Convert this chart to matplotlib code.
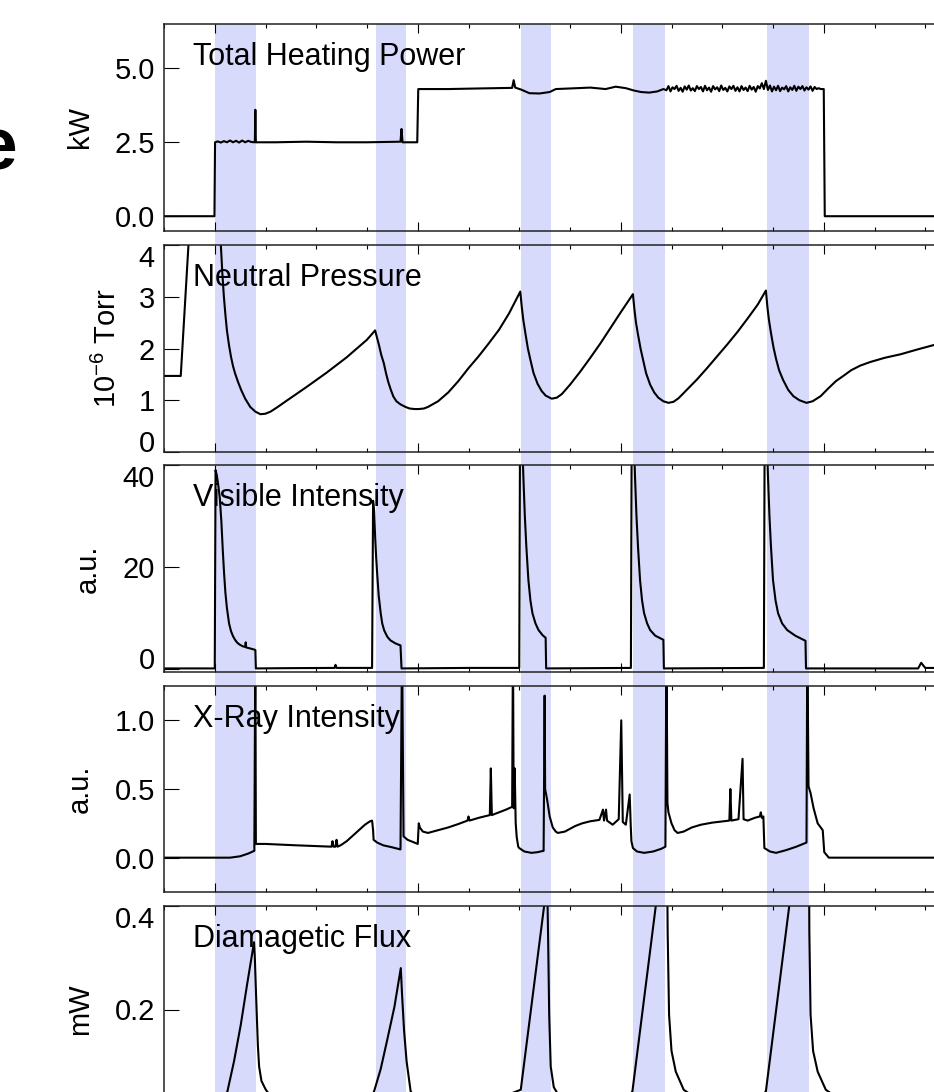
import matplotlib
matplotlib.use('Agg')
import matplotlib.pyplot as plt
import matplotlib.transforms as mtransforms
from matplotlib.patches import Rectangle
from matplotlib.ticker import MultipleLocator
import numpy as np

plt.rcParams['font.family'] = ['Liberation Sans', 'DejaVu Sans']
plt.rcParams['mathtext.fontset'] = 'custom'
plt.rcParams['mathtext.rm'] = 'Liberation Sans'
plt.rcParams['mathtext.it'] = 'Liberation Sans:italic'
plt.rcParams['mathtext.bf'] = 'Liberation Sans:bold'

# ---------------- data ----------------
x_limits = (-5, 80)
shade_spans = [(0.0, 4.05), (15.9, 18.85), (30.15, 33.1), (41.2, 44.35), (54.4, 58.5)]

titles = ['Total Heating Power', 'Neutral Pressure', 'Visible Intensity',
          'X-Ray Intensity', 'Diamagetic Flux']
ylabels = ['kW', r'10$^{\mathregular{-6}}$ Torr', 'a.u.', 'a.u.', 'mW']
ylims = [(-0.5, 6.5), (0, 4), (-0.5, 40), (-0.25, 1.25), (0, 0.4)]
yticks = [[0.0, 2.5, 5.0], [0, 1, 2, 3, 4], [0, 20, 40], [0.0, 0.5, 1.0], [0.2, 0.4]]
yticklabels = [['0.0', '2.5', '5.0'], ['0', '1', '2', '3', '4'], ['0', '20', '40'],
               ['0.0', '0.5', '1.0'], ['0.2', '0.4']]

# Total heating power (kW)
power_t = [-5, -0.03, 0.03, 0.3, 0.6, 0.9, 1.2, 1.5, 1.8, 2.1, 2.4, 2.7, 3.0, 3.3, 3.6, 3.95,
           4.0, 4.05, 6, 9, 12, 15, 18.3, 18.4, 18.5, 19.95, 20.05, 23, 26, 29.3, 29.45, 29.6,
           30.2, 31.0, 32.0, 33.0, 33.6, 35, 37, 38.5, 39.5, 40.5, 41.3, 42.0, 42.8, 43.6, 44.2]
power_v = [0, 0, 2.5, 2.53, 2.49, 2.54, 2.5, 2.56, 2.5, 2.55, 2.49, 2.56, 2.5, 2.55, 2.51, 2.5,
           3.6, 2.5, 2.5, 2.52, 2.5, 2.5, 2.52, 2.95, 2.5, 2.5, 4.3, 4.3, 4.32, 4.34, 4.6, 4.35,
           4.28, 4.16, 4.15, 4.2, 4.3, 4.32, 4.35, 4.3, 4.38, 4.33, 4.25, 4.2, 4.18, 4.22, 4.3]
# noisy plateau 44.5 .. 59.8 s (0.2 s sampling)
noise_start, noise_step = 44.5, 0.2
noise_v = [4.26, 4.4, 4.22, 4.36, 4.3, 4.41, 4.24, 4.34, 4.21, 4.39, 4.28, 4.42, 4.25, 4.33,
           4.23, 4.4, 4.3, 4.37, 4.22, 4.41, 4.26, 4.35, 4.21, 4.4, 4.29, 4.36, 4.23, 4.42,
           4.27, 4.34, 4.22, 4.39, 4.3, 4.41, 4.24, 4.36, 4.22, 4.4, 4.27, 4.35, 4.23, 4.41,
           4.28, 4.37, 4.21, 4.4, 4.32, 4.5, 4.3, 4.58, 4.27, 4.42, 4.22, 4.38, 4.26, 4.41,
           4.23, 4.35, 4.29, 4.4, 4.22, 4.36, 4.27, 4.41, 4.24, 4.38, 4.3, 4.4, 4.25, 4.36,
           4.28, 4.39, 4.24, 4.37, 4.3, 4.33, 4.3]
power_tail_t = [60.0, 60.1, 80]
power_tail_v = [4.3, 0.0, 0.0]

# Neutral pressure (1e-6 Torr)
press_t = [-5, -3.35, -2.5, -2.2, 0.3, 0.6, 0.75, 0.9, 1.05, 1.2, 1.4, 1.6, 1.8, 2.0, 2.3, 2.6,
           3.0, 3.5, 4.0, 4.5, 5.0, 5.5, 6.2, 7, 9, 11, 13, 15, 15.8, 16.0, 16.2, 16.4, 16.65,
           16.9, 17.1, 17.35, 17.6, 17.9, 18.3, 18.8, 19.2, 19.7, 20.1, 20.6, 21.0, 22.0, 23.0,
           24.0, 25.0, 26.0, 27.0, 28.0, 29.0, 30.1, 30.25, 30.4, 30.6, 30.85, 31.1, 31.4, 31.8,
           32.2, 32.6, 33.2, 33.7, 34.2, 35, 36, 37, 38, 39, 40, 41.2, 41.35, 41.5, 41.7, 41.95,
           42.2, 42.5, 42.9, 43.3, 43.7, 44.2, 44.7, 45.2, 45.7, 46.5, 47.5, 48.5, 49.5, 50.5,
           51.5, 52.5, 53.5, 54.3, 54.45, 54.6, 54.8, 55.05, 55.3, 55.6, 56.0, 56.5, 57.0, 57.6,
           58.3, 58.9, 59.7, 60.4, 61.2, 62.0, 62.7, 63.6, 64.6, 66.0, 67.6, 69.2, 70.9, 75, 80]
press_v = [1.47, 1.47, 4.3, 5.0, 5.0, 4.0, 3.45, 3.0, 2.65, 2.35, 2.07, 1.84, 1.66, 1.52, 1.35,
           1.2, 1.03, 0.87, 0.78, 0.73, 0.74, 0.78, 0.87, 0.98, 1.25, 1.53, 1.83, 2.17, 2.35,
           2.2, 2.05, 1.88, 1.72, 1.5, 1.35, 1.2, 1.07, 0.98, 0.92, 0.87, 0.84, 0.83, 0.83,
           0.84, 0.87, 0.98, 1.15, 1.37, 1.62, 1.85, 2.1, 2.36, 2.68, 3.1, 2.8, 2.55, 2.3, 2.0,
           1.78, 1.53, 1.32, 1.18, 1.09, 1.03, 1.05, 1.12, 1.3, 1.55, 1.82, 2.1, 2.4, 2.7,
           3.05, 2.75, 2.5, 2.27, 2.0, 1.78, 1.52, 1.3, 1.15, 1.05, 0.98, 0.95, 0.97, 1.04,
           1.2, 1.4, 1.62, 1.85, 2.08, 2.32, 2.58, 2.85, 3.12, 2.8, 2.55, 2.3, 2.02, 1.8, 1.58,
           1.39, 1.2, 1.08, 1.0, 0.95, 0.98, 1.08, 1.22, 1.37, 1.48, 1.58, 1.67, 1.74, 1.82,
           1.89, 1.98, 2.07, 2.2, 2.3]

# Visible intensity (a.u.)
vis_t = [-5, 0.0, 0.08, 0.2, 0.35, 0.5, 0.65, 0.8, 0.92, 1.05, 1.2, 1.41, 1.6, 1.8, 2.0, 2.23,
         2.5, 2.8, 3.0, 3.05, 3.1, 3.5, 3.87, 4.0, 4.05, 7, 11.8, 11.9, 12.0, 15.5, 15.6, 15.7,
         15.8, 15.9, 16.0, 16.15, 16.35, 16.5, 16.7, 17.0, 17.3, 17.8, 18.3, 18.4, 25, 30.0,
         30.1, 30.25, 30.4, 30.55, 30.7, 30.9, 31.1, 31.3, 31.6, 31.9, 32.3, 32.6, 32.65,
         41.0, 41.1, 41.25, 41.4, 41.55, 41.7, 41.9, 42.1, 42.3, 42.6, 42.9, 43.4, 44.2, 44.25,
         54.1, 54.2, 54.35, 54.5, 54.65, 54.8, 55.0, 55.25, 55.5, 55.9, 56.4, 57.2, 58.2, 58.25,
         69.3, 69.6, 70.0, 80]
vis_v = [0.2, 0.2, 39, 38, 36, 33.5, 29, 23, 18.8, 15, 12, 9, 7.5, 6.5, 5.8, 5.2,
         4.8, 4.5, 4.4, 5.3, 4.3, 4.1, 3.9, 3.8, 0.2, 0.25, 0.3, 0.9, 0.3, 0.3, 33, 31,
         26, 22, 18.8, 14.5, 11, 9, 7.6, 6.4, 5.7, 5.1, 4.7, 0.2, 0.3, 0.3,
         60, 48, 38, 30, 24, 17.5, 13.5, 11, 9, 7.7, 6.7, 6.2, 0.2,
         0.3, 60, 48, 38, 30, 24, 17.5, 13.5, 11, 9, 7.7, 6.6, 5.8, 0.2,
         0.3, 60, 48, 38, 30, 24, 17.5, 13.5, 11, 9, 7.7, 6.6, 5.6, 0.2,
         0.2, 1.3, 0.3, 0.2]

# X-ray intensity (a.u.)
xray_t = [-5, 1.5, 2.5, 3.3, 3.9, 4.0, 4.05, 5, 8, 11.5, 11.6, 11.7, 11.9, 12.0, 12.1, 12.4,
          13.0, 13.6, 14.2, 14.8, 15.3, 15.5, 15.6, 15.65, 16.0, 16.6, 17.5, 18.3, 18.45, 18.6,
          19.0, 19.5, 20.0, 20.1, 20.2, 20.5, 21.0, 22.0, 23.0, 24.0, 24.9, 25.0, 25.1, 26.0,
          27.1, 27.2, 27.3, 28.0, 28.7, 29.3, 29.38, 29.45, 29.55, 29.65, 29.75, 29.9, 30.0,
          30.5, 31.2, 31.8, 32.4, 32.5, 32.55, 32.75, 33.0, 33.3, 33.6, 33.8, 34.5, 35.5, 36.2,
          37.0, 37.9, 38.25, 38.35, 38.55, 38.65, 39.2, 39.8, 40.05, 40.2, 40.5, 40.88, 40.98,
          41.05, 41.2, 41.6, 42.3, 43.2, 44.0, 44.4, 44.5, 44.6, 44.7, 45.0, 45.3, 45.6, 46.2,
          47.0, 47.9, 49.0, 50.7, 50.8, 50.9, 51.6, 52.0, 52.1, 52.5, 53.2, 53.7, 53.8, 53.9,
          54.05, 54.15, 54.7, 55.3, 56.3, 57.3, 58.3, 58.38, 58.5, 58.7, 59.0, 59.4, 59.9,
          60.05, 60.5, 80]
xray_v = [0.0, 0.0, 0.01, 0.03, 0.05, 1.6, 0.1, 0.1, 0.09, 0.08, 0.12, 0.08, 0.08, 0.13, 0.08,
          0.09, 0.12, 0.16, 0.2, 0.24, 0.265, 0.27, 0.2, 0.13, 0.11, 0.09, 0.075, 0.06, 1.6,
          0.155, 0.13, 0.115, 0.1, 0.25, 0.22, 0.19, 0.18, 0.2, 0.22, 0.245, 0.27, 0.3, 0.27,
          0.29, 0.31, 0.65, 0.31, 0.33, 0.35, 0.37, 1.6, 0.36, 0.65, 0.25, 0.15, 0.08, 0.07,
          0.045, 0.035, 0.04, 0.05, 1.18, 0.5, 0.42, 0.3, 0.22, 0.19, 0.18, 0.19, 0.23, 0.25,
          0.265, 0.275, 0.35, 0.27, 0.35, 0.27, 0.24, 0.28, 1.0, 0.26, 0.24, 0.46, 0.24,
          0.12, 0.07, 0.045, 0.035, 0.045, 0.065, 0.08, 1.6, 0.4, 0.33, 0.25, 0.2, 0.18, 0.19,
          0.22, 0.24, 0.255, 0.27, 0.5, 0.27, 0.28, 0.72, 0.28, 0.27, 0.29, 0.3, 0.33, 0.29,
          0.3, 0.07, 0.045, 0.035, 0.055, 0.08, 0.11, 1.6, 0.52, 0.47, 0.36, 0.25, 0.2,
          0.04, 0.0, 0.0]

# Diamagnetic flux (mW)
flux_t = [-5, 0, 0.4, 0.8, 1.25, 1.9, 2.56, 3.2, 3.87, 3.95, 4.05, 4.14, 4.25, 4.37, 4.6, 5.0,
          5.5, 6, 7, 8, 14, 15.0, 15.7, 16.35, 17.0, 17.7, 18.33, 18.45, 18.65, 18.9, 19.14,
          19.3, 19.8, 21, 27, 29.5, 30.15, 32.45, 32.75, 32.85, 32.95, 33.1, 33.4, 34.0, 35, 40,
          41.15, 43.45, 44.53, 44.62, 44.76, 45.0, 45.42, 46.2, 48, 53, 54.3, 56.6, 58.5, 58.58,
          58.7, 58.95, 59.4, 60.2, 62, 70, 80]
flux_v = [0, 0, 0.008, 0.022, 0.042, 0.1, 0.17, 0.25, 0.33, 0.3, 0.24, 0.19, 0.13, 0.09, 0.062,
          0.046, 0.032, 0.022, 0.012, 0.008, 0.005, 0.015, 0.042, 0.085, 0.142, 0.205, 0.28,
          0.23, 0.16, 0.1, 0.065, 0.042, 0.028, 0.015, 0.02, 0.04, 0.045, 0.4, 0.45, 0.33,
          0.19, 0.09, 0.05, 0.03, 0.02, 0.01, 0.042, 0.4, 0.58, 0.35, 0.19, 0.12, 0.08, 0.045,
          0.02, 0.01, 0.042, 0.4, 0.7, 0.35, 0.19, 0.12, 0.08, 0.045, 0.02, 0.008, 0.005]

# ---------------- figure ----------------
W, H, DPI = 934, 1092, 100
fig = plt.figure(figsize=(W / DPI, H / DPI), dpi=DPI)

left_px = 164
px_per_unit = 10.15
width_px = (x_limits[1] - x_limits[0]) * px_per_unit
tops_px = [24, 245, 465, 686, 906]
heights_px = [207, 207, 207, 206, 207]

axes = []
for top, h in zip(tops_px, heights_px):
    ax = fig.add_axes([left_px / W, 1 - (top + h) / H, width_px / W, h / H])
    ax.set_facecolor('none')
    axes.append(ax)

noise_t = noise_start + noise_step * np.arange(len(noise_v))
series = [
    (list(power_t) + list(noise_t) + power_tail_t, list(power_v) + list(noise_v) + power_tail_v),
    (press_t, press_v),
    (vis_t, vis_v),
    (xray_t, xray_v),
    (flux_t, flux_v),
]

label_pads = [15, 12, 15, 15, 15]
for i, ax in enumerate(axes):
    t, v = series[i]
    ax.plot(t, v, color='black', lw=1.5, solid_joinstyle='round')
    ax.set_xlim(*x_limits)
    ax.set_ylim(*ylims[i])
    ax.xaxis.set_major_locator(MultipleLocator(20))
    ax.xaxis.set_minor_locator(MultipleLocator(5))
    ax.tick_params(axis='x', which='major', direction='in', top=True, bottom=True,
                   length=6.2, width=0.8, labelbottom=False)
    ax.tick_params(axis='x', which='minor', direction='in', top=True, bottom=True,
                   length=3.0, width=0.8)
    ax.set_yticks(yticks[i])
    ax.set_yticklabels(yticklabels[i])
    ax.tick_params(axis='y', which='major', direction='in', left=True, right=True,
                   length=11, width=0.8, pad=6.5, labelsize=21)
    for sp in ax.spines.values():
        sp.set_linewidth(1.1)
        sp.set_color('#222222')
    ax.set_ylabel(ylabels[i], fontsize=21, labelpad=label_pads[i])
    ax.annotate(titles[i], xy=(0, 1), xycoords='axes fraction', xytext=(29, -41),
                textcoords='offset pixels', ha='left', va='baseline', fontsize=22)
    # end labels pulled inside the axis like the original
    ymin, ymax = ylims[i]
    for lab, val in zip(ax.get_yticklabels(), yticks[i]):
        if abs(val - ymax) < 1e-9:
            lab.set_va('top')
        elif abs(val - ymin) < 0.6 and i in (1, 2):
            lab.set_va('baseline')

# shaded intervals spanning all panels (and the gaps between them)
trans = mtransforms.blended_transform_factory(axes[0].transData, fig.transFigure)
top_frac = 1 - tops_px[0] / H
for x0, x1 in shade_spans:
    rect = Rectangle((x0, -0.2), x1 - x0, top_frac + 0.2, transform=trans,
                     facecolor='#d8dafc', edgecolor='none', zorder=-1)
    fig.add_artist(rect)

# partially visible bold label at the left edge
fig.text(17 / W, 1 - 169 / H, 'e', ha='right', va='baseline', fontsize=54,
         fontweight='bold')

fig.savefig('out.png', dpi=DPI)
